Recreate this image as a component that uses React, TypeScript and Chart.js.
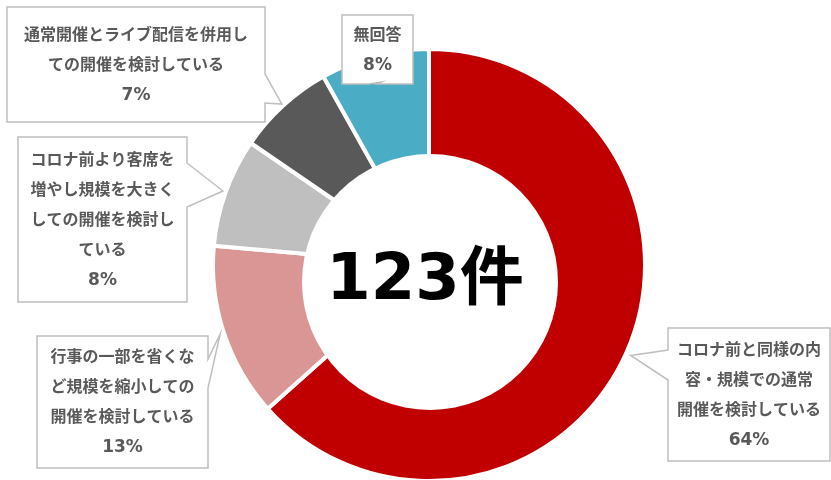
import React, { useEffect, useRef } from "react";
import { Chart, registerables } from "chart.js";

Chart.register(...registerables);

// ---- data ----
const categories = [
  "コロナ前と同様の内容・規模での通常開催を検討している",
  "行事の一部を省くなど規模を縮小しての開催を検討している",
  "コロナ前より客席を増やし規模を大きくしての開催を検討している",
  "通常開催とライブ配信を併用しての開催を検討している",
  "無回答",
];
const counts = [78, 16, 10, 9, 10];
const percentLabels = ["64%", "13%", "8%", "7%", "8%"];
const labelLines = [
  ["コロナ前と同様の内", "容・規模での通常", "開催を検討している"],
  ["行事の一部を省くな", "ど規模を縮小しての", "開催を検討している"],
  ["コロナ前より客席を", "増やし規模を大きく", "しての開催を検討し", "ている"],
  ["通常開催とライブ配信を併用し", "ての開催を検討している"],
  ["無回答"],
];
const unitLabel = "件";

// ---- styling / layout ----
const colors = ["#C00000", "#D99694", "#BFBFBF", "#595959", "#4BACC6"];
const boxes = [
  { x: 668, y: 328, w: 162, h: 133, side: "left", b0: 350, b1: 380, tipOff: 5 },
  { x: 37, y: 336, w: 171, h: 132, side: "right", b0: 359, b1: 388, tipOff: 4 },
  { x: 18, y: 137, w: 169, h: 165, side: "right", b0: 163, b1: 207, tipOff: 3 },
  { x: 7, y: 7, w: 258, h: 115, side: "right", b0: 74, b1: 103, tipOff: 2 },
  { x: 342, y: 15, w: 71, h: 69, side: "bottom", b0: 369, b1: 377, tipOff: -27 },
];
// white centre disc (separate shape over the ring in the original)
const hole = { dx: 1, dy: 17, r: 128 };

const FONT_FAMILY = "'DejaVu Sans', 'Noto Sans CJK JP', sans-serif";

const calloutPlugin = {
  id: "callouts",
  afterDatasetsDraw(chart: any) {
    const ctx = chart.ctx;
    const arc0: any = chart.getDatasetMeta(0).data[0];
    const cx = arc0.x + hole.dx;
    const cy = arc0.y + hole.dy;
    ctx.save();
    ctx.beginPath();
    ctx.arc(cx, cy, hole.r, 0, Math.PI * 2);
    ctx.fillStyle = "#FFFFFF";
    ctx.fill();
    const total = counts.reduce((a, v) => a + v, 0);
    ctx.fillStyle = "#000000";
    ctx.font = `bold 64px ${FONT_FAMILY}`;
    ctx.textAlign = "center";
    ctx.textBaseline = "alphabetic";
    ctx.fillText(`${total}${unitLabel}`, cx - 5, cy + 17);
    ctx.restore();
  },
  afterDraw(chart: any) {
    const ctx = chart.ctx;
    const meta = chart.getDatasetMeta(0);
    meta.data.forEach((arc: any, i: number) => {
      const b = boxes[i];
      const mid = (arc.startAngle + arc.endAngle) / 2;
      const r = arc.outerRadius + b.tipOff;
      const tx = arc.x + Math.cos(mid) * r;
      const ty = arc.y + Math.sin(mid) * r;
      ctx.save();
      ctx.beginPath();
      const x0 = b.x, y0 = b.y, x1 = b.x + b.w, y1 = b.y + b.h;
      ctx.moveTo(x0, y0);
      ctx.lineTo(x1, y0);
      if (b.side === "right") {
        ctx.lineTo(x1, b.b0);
        ctx.lineTo(tx, ty);
        ctx.lineTo(x1, b.b1);
      }
      ctx.lineTo(x1, y1);
      if (b.side === "bottom") {
        ctx.lineTo(b.b1, y1);
        ctx.lineTo(tx, ty);
        ctx.lineTo(b.b0, y1);
      }
      ctx.lineTo(x0, y1);
      if (b.side === "left") {
        ctx.lineTo(x0, b.b1);
        ctx.lineTo(tx, ty);
        ctx.lineTo(x0, b.b0);
      }
      ctx.closePath();
      ctx.fillStyle = "#FFFFFF";
      ctx.fill();
      ctx.lineWidth = 1.5;
      ctx.strokeStyle = "#BFBFBF";
      ctx.lineJoin = "miter";
      ctx.stroke();

      const lines = [...labelLines[i], percentLabels[i]];
      const lh = 30;
      const cx = b.x + b.w / 2;
      const cy = b.y + b.h / 2 + 1;
      const startY = cy - ((lines.length - 1) * lh) / 2;
      ctx.fillStyle = "#595959";
      ctx.textAlign = "center";
      ctx.textBaseline = "middle";
      lines.forEach((ln, k) => {
        const isPct = k === lines.length - 1;
        ctx.font = `bold ${isPct ? 17 : 16}px ${FONT_FAMILY}`;
        ctx.fillText(ln, cx, startY + k * lh);
      });
      ctx.restore();
    });
  },
};

export default function App() {
  const ref = useRef<HTMLCanvasElement>(null);
  useEffect(() => {
    if (!ref.current) return;
    const chart = new Chart(ref.current, {
      type: "doughnut",
      data: {
        labels: categories,
        datasets: [
          {
            data: counts,
            backgroundColor: colors,
            borderColor: "#FFFFFF",
            borderWidth: 4,
          },
        ],
      },
      options: {
        animation: false,
        responsive: false,
        devicePixelRatio: 1,
        radius: 216,
        cutout: "50%",
        layout: { padding: { top: 50, bottom: 0, left: 214, right: 187 } },
        plugins: {
          legend: { display: false },
          tooltip: { enabled: false },
        },
      },
      plugins: [calloutPlugin],
    } as any);
    return () => chart.destroy();
  }, []);
  return (
    <div style={{ position: "absolute", left: 0, top: 0, width: 831, height: 480, background: "#fff" }}>
      <canvas ref={ref} width={831} height={480} style={{ width: 831, height: 480, display: "block" }} />
    </div>
  );
}
